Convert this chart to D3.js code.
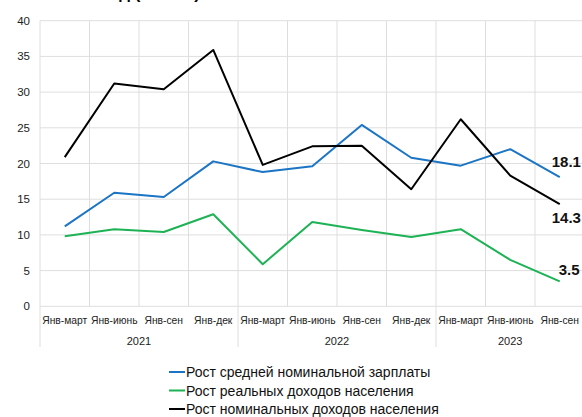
<!DOCTYPE html>
<html>
<head>
<meta charset="utf-8">
<script src="https://cdn.jsdelivr.net/npm/d3@7"></script>
<style>
  body { margin: 0; background: #fff; }
  svg { display: block; font-family: 'Liberation Sans', Arial, sans-serif; }
</style>
</head>
<body>
<svg class="chart"></svg>
<script>
const graphWidth = 582;
const graphHeight = 417;

// Data
const periods = ['Янв-март', 'Янв-июнь', 'Янв-сен', 'Янв-дек',
  'Янв-март', 'Янв-июнь', 'Янв-сен', 'Янв-дек',
  'Янв-март', 'Янв-июнь', 'Янв-сен'];
const years = ['2021', '2022', '2023'];
const yearSpans = [4, 4, 3];
const wages = [11.2, 15.9, 15.3, 20.3, 18.8, 19.6, 25.4, 20.8, 19.7, 22.0, 18.1];
const realIncome = [9.8, 10.8, 10.4, 12.9, 5.9, 11.8, 10.7, 9.7, 10.8, 6.5, 3.5];
const nominalIncome = [20.9, 31.2, 30.4, 35.9, 19.8, 22.4, 22.5, 16.4, 26.2, 18.3, 14.3];
const yTicks = [0, 5, 10, 15, 20, 25, 30, 35, 40];

const series = [
  { name: 'Рост средней номинальной зарплаты', values: wages, color: '#1b75c4', label: '18.1', dy: -10 },
  { name: 'Рост реальных доходов населения', values: realIncome, color: '#1db254', label: '3.5', dy: -6 },
  { name: 'Рост номинальных доходов населения', values: nominalIncome, color: '#000000', label: '14.3', dy: 19 }
];

const margin = { top: 20.7, left: 40, bottom: 306.3 };
const bandW = 49.5;

const svg = d3.select('.chart')
  .attr('width', graphWidth)
  .attr('height', graphHeight);

const x = d3.scaleBand()
  .domain(d3.range(periods.length))
  .range([margin.left, margin.left + bandW * periods.length])
  .padding(0);

const y = d3.scaleLinear()
  .domain([0, 40])
  .range([margin.bottom, margin.top]);

// title (cut off at the top, only descenders show)
svg.append('text')
  .attr('x', 200)
  .attr('y', -1)
  .attr('text-anchor', 'end')
  .style('font-size', '17px')
  .style('font-weight', 'bold')
  .text('Темпы на год (в % г/г)');

// horizontal gridlines
svg.append('g')
  .selectAll('line')
  .data(yTicks)
  .enter()
  .append('line')
  .attr('x1', margin.left)
  .attr('x2', graphWidth)
  .attr('y1', d => y(d))
  .attr('y2', d => y(d))
  .attr('stroke', '#dedede')
  .attr('stroke-width', 1);

// vertical gridlines between categories
svg.append('g')
  .selectAll('line')
  .data(d3.range(periods.length + 1))
  .enter()
  .append('line')
  .attr('x1', d => margin.left + d * bandW)
  .attr('x2', d => margin.left + d * bandW)
  .attr('y1', y(40))
  .attr('y2', y(0))
  .attr('stroke', '#dedede')
  .attr('stroke-width', 1);

// year separators below axis
let start = 0;
const yearBounds = [0];
yearSpans.forEach(s => { start += s; yearBounds.push(start); });
svg.append('g')
  .selectAll('line')
  .data(yearBounds)
  .enter()
  .append('line')
  .attr('x1', d => x(Math.min(d, periods.length - 1)) + (d === periods.length ? bandW : 0))
  .attr('x2', d => x(Math.min(d, periods.length - 1)) + (d === periods.length ? bandW : 0))
  .attr('y1', y(0))
  .attr('y2', 347)
  .attr('stroke', '#dedede');

// y tick labels
svg.append('g')
  .selectAll('text')
  .data(yTicks)
  .enter()
  .append('text')
  .attr('x', 30)
  .attr('y', d => y(d) + 4)
  .attr('text-anchor', 'end')
  .style('font-size', '11.5px')
  .style('fill', '#222')
  .text(d => d);

// category labels
svg.append('g')
  .selectAll('text')
  .data(periods)
  .enter()
  .append('text')
  .attr('x', (d, i) => x(i) + bandW / 2)
  .attr('y', 323.5)
  .attr('text-anchor', 'middle')
  .style('font-size', '10.3px')
  .style('fill', '#222')
  .text(d => d);

// year labels
svg.append('g')
  .selectAll('text')
  .data(years)
  .enter()
  .append('text')
  .attr('x', (d, i) => {
    const a = x(yearBounds[i]);
    const b = x(yearBounds[i + 1] - 1) + bandW;
    return (a + b) / 2;
  })
  .attr('y', 344.5)
  .attr('text-anchor', 'middle')
  .style('font-size', '11px')
  .style('fill', '#222')
  .text(d => d);

// lines
const line = d3.line()
  .x((d, i) => x(i) + bandW / 2)
  .y(d => y(d));

svg.append('g')
  .selectAll('path')
  .data(series)
  .enter()
  .append('path')
  .attr('d', d => line(d.values))
  .attr('fill', 'none')
  .attr('stroke', d => d.color)
  .attr('stroke-width', 2)
  .attr('stroke-linejoin', 'round');

// end labels
svg.append('g')
  .selectAll('text')
  .data(series)
  .enter()
  .append('text')
  .attr('x', d => x(d.values.length - 1) + bandW / 2 - (d.label.length > 3 ? 8 : 1))
  .attr('y', d => y(d.values[d.values.length - 1]) + d.dy)
  .style('font-size', '15px')
  .style('font-weight', 'bold')
  .style('fill', '#111')
  .text(d => d.label);

// legend
const legend = svg.append('g')
  .selectAll('g')
  .data(series)
  .enter()
  .append('g')
  .attr('transform', (d, i) => 'translate(169,' + (372 + i * 18.5) + ')');

legend.append('line')
  .attr('x1', 0)
  .attr('x2', 16)
  .attr('y1', 0)
  .attr('y2', 0)
  .attr('stroke', d => d.color)
  .attr('stroke-width', 2);

legend.append('text')
  .attr('x', 17)
  .attr('y', 5)
  .style('font-size', '14px')
  .style('fill', '#111')
  .text(d => d.name);
</script>
</body>
</html>
